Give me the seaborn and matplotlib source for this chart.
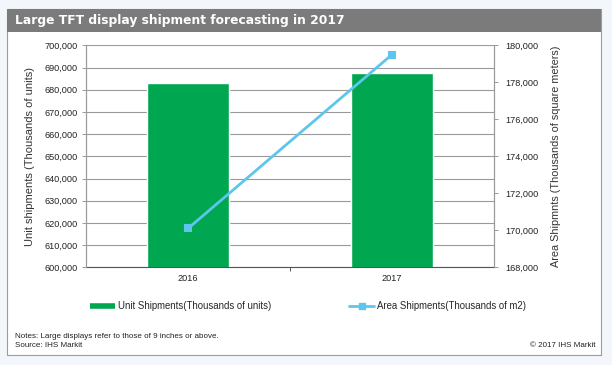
import pandas as pd
import matplotlib.pyplot as plt
import seaborn as sns
from matplotlib.patches import Rectangle
from matplotlib.lines import Line2D
from matplotlib.ticker import FuncFormatter, MultipleLocator, FixedLocator

# data
years = ["2016", "2017"]
unit_shipments = [683000, 687500]      # thousands of units
area_shipments = [170100, 179500]      # thousands of m2

GREEN = "#00A650"
BLUE = "#5DC6EC"
GRID = "#9a9a9a"

df = pd.DataFrame({"year": years, "units": unit_shipments, "area": area_shipments})

sns.set_theme(style="white")
plt.rcParams["font.family"] = ["Liberation Sans", "DejaVu Sans"]

fig = plt.figure(figsize=(6.12, 3.65), dpi=100)
fig.patch.set_facecolor("#f3f6fa")

# white panel with grey border and grey title band
fig.patches.append(Rectangle((7 / 612, 1 - 355 / 365), 594 / 612, 346 / 365,
                             transform=fig.transFigure, facecolor="white",
                             edgecolor="#9c9c9c", linewidth=0.8, zorder=-2))
fig.patches.append(Rectangle((7 / 612, 1 - 32 / 365), 594 / 612, 23 / 365,
                             transform=fig.transFigure, facecolor="#7b7b7b",
                             edgecolor="none", zorder=-1))
fig.text(15 / 612, 1 - 20.5 / 365, "Large TFT display shipment forecasting in 2017",
         color="white", fontsize=8.8, fontweight="bold", family="DejaVu Sans",
         va="center", ha="left")

ax = fig.add_axes([86 / 612, 1 - 267.3 / 365, 408 / 612, 222 / 365])
ax.set_facecolor("none")

sns.barplot(data=df, x="year", y="units", color=GREEN, saturation=1,
            width=0.4, ax=ax, zorder=2)
ax.set_ylim(600000, 700000)
ax.yaxis.set_major_locator(MultipleLocator(10000))
ax.yaxis.set_major_formatter(FuncFormatter(lambda v, p: f"{v:,.0f}"))
ax.grid(axis="y", color=GRID, linewidth=0.8, zorder=0)
ax.set_axisbelow(True)
ax.set_xlabel("")
ax.set_ylabel("Unit shipments (Thousands of units)", fontsize=8, color="#333333", labelpad=7)
ax.tick_params(axis="y", labelsize=6.6, colors="#222222", length=3, width=0.7,
               direction="out", left=True, pad=3)
ax.tick_params(axis="y", color=GRID)
ax.tick_params(axis="x", labelsize=6.6, colors="#222222", length=0, pad=5)
ax.xaxis.set_minor_locator(FixedLocator([0.5]))
ax.tick_params(axis="x", which="minor", length=3, width=0.7, color="#555555",
               direction="out", bottom=True)
for side in ["left", "right"]:
    ax.spines[side].set_color(GRID)
    ax.spines[side].set_linewidth(0.8)
ax.spines["top"].set_visible(False)
ax.spines["bottom"].set_color("#555555")
ax.spines["bottom"].set_linewidth(0.8)

ax2 = ax.twinx()
sns.pointplot(data=df, x="year", y="area", color=BLUE, marker="s",
              markersize=5, linewidth=2, ax=ax2)
ax2.set_ylim(168000, 180000)
ax2.yaxis.set_major_locator(MultipleLocator(2000))
ax2.yaxis.set_major_formatter(FuncFormatter(lambda v, p: f"{v:,.0f}"))
ax2.set_ylabel("Area Shipmnts (Thousands of square meters)", fontsize=7.8,
               color="#333333", labelpad=9)
ax2.tick_params(axis="y", labelsize=6.6, colors="#222222", length=3, width=0.7,
                direction="out", right=True, pad=5)
ax2.tick_params(axis="y", color=GRID)
ax2.set_xlabel("")
ax2.grid(False)
for side in ["left", "right"]:
    ax2.spines[side].set_color(GRID)
    ax2.spines[side].set_linewidth(0.8)
ax2.spines["top"].set_visible(False)
ax2.spines["bottom"].set_visible(False)

handles = [
    Line2D([], [], color=GREEN, linewidth=4, solid_capstyle="butt"),
    Line2D([], [], color=BLUE, linewidth=2, marker="s", markersize=4),
]
fig.legend(handles, ["Unit Shipments(Thousands of units)", "Area Shipments(Thousands of m2)"],
           loc="center", bbox_to_anchor=(308 / 612, 1 - 306 / 365), ncol=2,
           frameon=False, fontsize=6.9, handlelength=2.6, handletextpad=0.3,
           columnspacing=8.2)

fig.text(15 / 612, 1 - 336 / 365, "Notes: Large displays refer to those of 9 inches or above.",
         fontsize=5.8, color="#222222", va="center")
fig.text(15 / 612, 1 - 345.5 / 365, "Source: IHS Markit",
         fontsize=5.8, color="#222222", va="center")
fig.text(596 / 612, 1 - 345.5 / 365, "\u00a9 2017 IHS Markit",
         fontsize=5.8, color="#222222", va="center", ha="right")

fig.savefig("out.png", dpi=100, facecolor=fig.get_facecolor())
